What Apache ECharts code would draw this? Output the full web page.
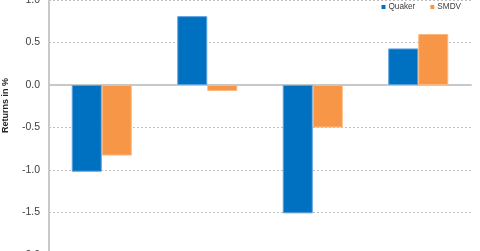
<!DOCTYPE html>
<html><head><meta charset="utf-8">
<script src="https://cdn.jsdelivr.net/npm/echarts@6/dist/echarts.min.js"></script>
<style>html,body{margin:0;padding:0;background:#fff}#c{width:480px;height:251px}</style>
</head><body><div id="c"></div>
<script>
const categories = ['1', '2', '3', '4'];
const quaker = [-1.02, 0.81, -1.51, 0.43];
const smdv = [-0.83, -0.07, -0.50, 0.60];
const seriesNames = ['Quaker', 'SMDV'];
const yTitle = 'Returns in %';

const chart = echarts.init(document.getElementById('c'), null, {renderer: 'canvas'});
chart.setOption({
  animation: false,
  backgroundColor: '#ffffff',
  grid: {left: 49, right: 9, top: 0, height: 255, containLabel: false, outerBoundsMode: 'none'},
  legend: {
    data: seriesNames, top: -2, right: 14, icon: 'rect', itemWidth: 4, itemHeight: 4, itemGap: 15,
    itemStyle: {borderWidth: 0},
    textStyle: {fontSize: 8.2, color: '#404040', fontFamily: 'Liberation Sans', padding: [0, 0, 0, -2]}
  },
  graphic: [{
    type: 'text', left: 1, top: 78, rotation: Math.PI / 2,
    style: {text: yTitle, font: 'bold 9px "Liberation Sans"', fill: '#262626'},
    originX: 0, originY: 0
  }],
  xAxis: {
    type: 'category', data: categories,
    axisLine: {onZero: true, lineStyle: {color: '#C8C8C8', width: 2}},
    axisTick: {show: false}, axisLabel: {show: false}, splitLine: {show: false}
  },
  yAxis: {
    type: 'value', min: -2, max: 1, interval: 0.5,
    axisLine: {show: true, lineStyle: {color: '#C8C8C8', width: 2}},
    axisTick: {show: false},
    axisLabel: {formatter: v => v.toFixed(1), fontSize: 10.5, color: '#404040', margin: 9, fontFamily: 'Liberation Sans'},
    splitLine: {lineStyle: {color: '#BFBFBF', type: [2, 2], width: 1}}
  },
  series: [
    {name: seriesNames[0], type: 'bar', data: quaker, barWidth: 30, barGap: '0%',
     itemStyle: {color: '#0070C0', borderColor: '#5AA0E0', borderWidth: 1}},
    {name: seriesNames[1], type: 'bar', data: smdv, barWidth: 30, barGap: '0%',
     itemStyle: {color: '#F79646', borderColor: '#FBB77E', borderWidth: 1}}
  ]
});
</script></body></html>
